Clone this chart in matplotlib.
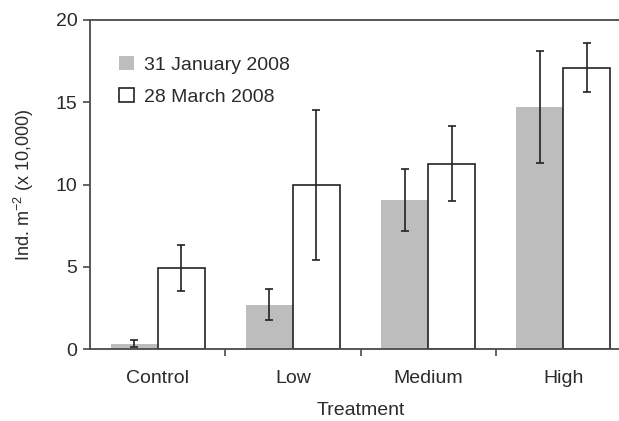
import matplotlib
matplotlib.use("Agg")
import matplotlib.pyplot as plt
import numpy as np

treatments = ["Control", "Low", "Medium", "High"]
jan_mean = [0.35, 2.7, 9.07, 14.7]
jan_err = [0.2, 0.95, 1.9, 3.4]
mar_mean = [4.92, 10.0, 11.27, 17.1]
mar_err = [1.4, 4.55, 2.27, 1.5]
series_labels = ["31 January 2008", "28 March 2008"]

TEXT = "#2b2b2b"
AXIS = "#4a4a4a"
GREY = "#bdbdbd"

plt.rcParams.update({
    "font.family": ["Liberation Sans", "DejaVu Sans"],
    "font.size": 14,
    "text.color": TEXT,
    "axes.labelcolor": TEXT,
    "xtick.color": AXIS,
    "ytick.color": AXIS,
    "xtick.labelcolor": TEXT,
    "ytick.labelcolor": TEXT,
    "mathtext.default": "regular",
})

fig = plt.figure(figsize=(6.19, 4.21), dpi=100)
# axes box runs slightly past the right edge of the picture, as in the reference
ax = fig.add_axes([90 / 619, 71.7 / 421, 541 / 619, 329.3 / 421])

x = np.arange(len(treatments))
w = 0.348
err_kw = dict(ecolor="#222222", elinewidth=1.2, capsize=3, capthick=1.2)
ax.bar(x - w / 2, jan_mean, w, color=GREY, edgecolor="none",
       yerr=jan_err, error_kw=err_kw, label=series_labels[0])
ax.bar(x + w / 2, mar_mean, w, color="white", edgecolor="#222222", linewidth=1.2,
       yerr=mar_err, error_kw=err_kw, label=series_labels[1])

ax.set_xlim(-0.5, 3.5)
ax.set_ylim(0, 20)
ax.set_yticks([0, 5, 10, 15, 20])
ax.set_xticks(x)
ax.set_xticklabels(treatments)
ax.set_xticks([0.5, 1.5, 2.5], minor=True)
ax.tick_params(axis="x", which="major", length=0, pad=15)
ax.tick_params(axis="x", which="minor", length=5, width=1.2, direction="out")
ax.tick_params(axis="y", length=5, width=1.2, direction="out", pad=4)

for s in ax.spines.values():
    s.set_color(AXIS)
    s.set_linewidth(1.3)

ax.set_xlabel("Treatment", labelpad=11)
ax.set_ylabel("Ind. m$^{-2}$ (x 10,000)", fontsize=13, labelpad=14)

leg = ax.legend(loc="upper left", bbox_to_anchor=(0.04, 0.915), frameon=False,
                handlelength=0.75, handleheight=0.75, handletextpad=0.5,
                labelspacing=0.75, borderaxespad=0)

fig.savefig("out.png", dpi=100, facecolor="white")
